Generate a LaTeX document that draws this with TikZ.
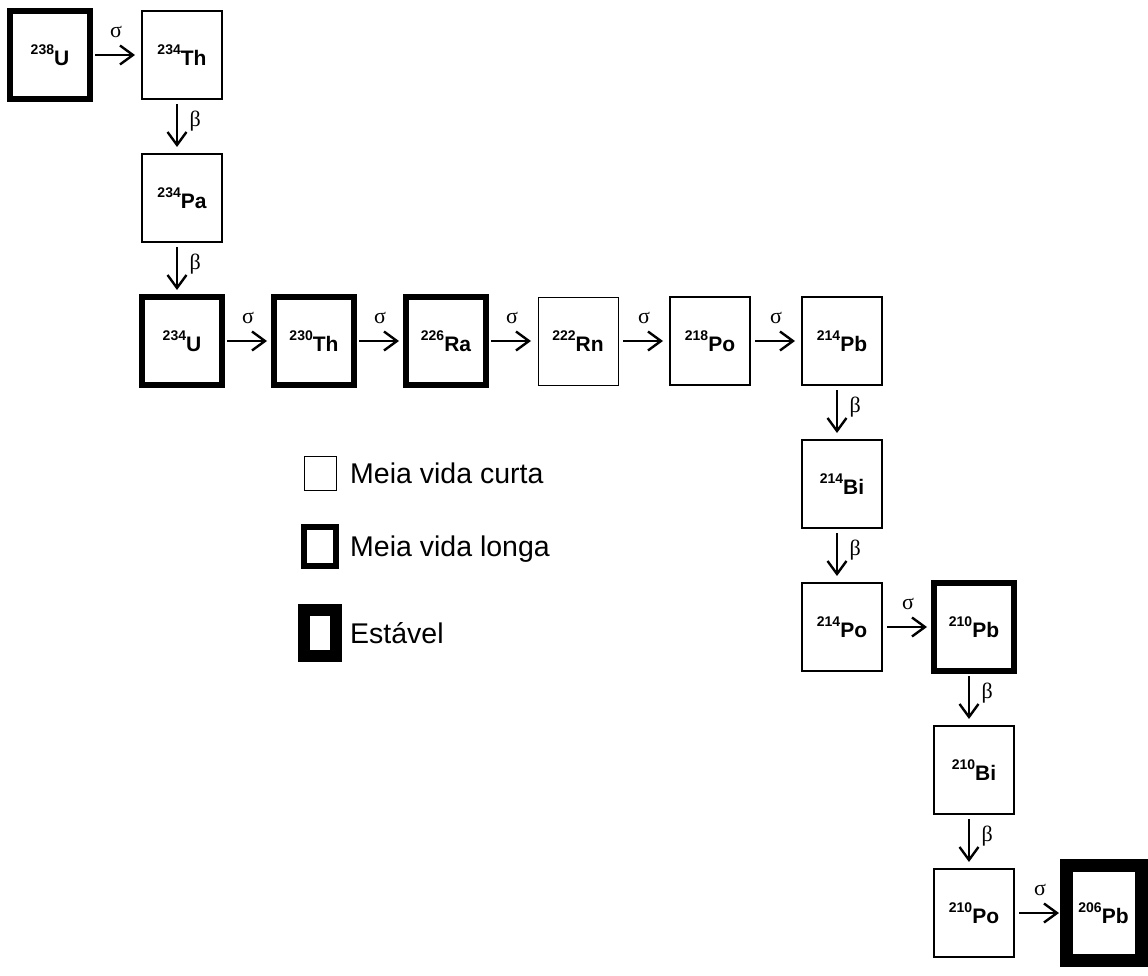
\documentclass[tikz,border=0pt]{standalone}
\usepackage{fontspec}
\setmainfont{Liberation Sans}
\newfontfamily\greekfont{Liberation Serif}
\usepackage{tikz}
\usetikzlibrary{positioning, arrows.meta}
\newcommand{\nucl}[2]{\raisebox{10.5pt}{\fontsize{14}{15}\selectfont #1}#2}

\begin{document}
\begin{tikzpicture}[
	node distance=55pt and 52pt,
	nuc/.style={draw, outer sep=0pt, inner sep=0pt, minimum width=80pt, minimum height=88pt, font=\bfseries\fontsize{21}{25}\selectfont},
	curta/.style={nuc, line width=1pt},
	media/.style={nuc, line width=2.2pt},
	longa/.style={nuc, line width=5.5pt},
	estavel/.style={nuc, line width=13pt, minimum width=75pt, minimum height=95pt},
	decay/.style={line width=2.4pt, -{Straight Barb[length=13pt, width=19pt]}, shorten <=5pt, shorten >=7pt},
	greek/.style={font=\greekfont\fontsize{22}{26}\selectfont},
	sigma/.style={greek, midway, yshift=23pt},
	beta/.style={greek, pos=.4, anchor=west, xshift=8pt},
	legbox/.style={draw, outer sep=0pt, minimum width=32pt},
	legtext/.style={inner sep=0pt, anchor=west, text height=20.5pt, text depth=0pt, font=\fontsize{28.5}{32}\selectfont}
	]
	\useasboundingbox (0,0) rectangle (1148pt,-976pt);
	
	\node[longa] (u238) at (50pt,-55pt) {\nucl{238}{U}};
	\node[media, right=of u238] (th234) {\nucl{234}{Th}};
	\node[media, below=of th234] (pa234) {\nucl{234}{Pa}};
	\node[longa, below=of pa234] (u234) {\nucl{234}{U}};
	\node[longa, right=of u234] (th230) {\nucl{230}{Th}};
	\node[longa, right=of th230] (ra226) {\nucl{226}{Ra}};
	\node[curta, right=of ra226] (rn222) {\nucl{222}{Rn}};
	\node[media, right=of rn222] (po218) {\nucl{218}{Po}};
	\node[media, right=of po218] (pb214) {\nucl{214}{Pb}};
	\node[media, below=of pb214] (bi214) {\nucl{214}{Bi}};
	\node[media, below=of bi214] (po214) {\nucl{214}{Po}};
	\node[longa, right=of po214] (pb210) {\nucl{210}{Pb}};
	\node[media, below=of pb210] (bi210) {\nucl{210}{Bi}};
	\node[media, below=of bi210] (po210) {\nucl{210}{Po}};
	\node[estavel, right=of po210] (pb206) {\nucl{206}{Pb}};
	
	\draw[decay] (u238) -- (th234) node[sigma] {σ};
	\draw[decay] (u234) -- (th230) node[sigma] {σ};
	\draw[decay] (th230) -- (ra226) node[sigma] {σ};
	\draw[decay] (ra226) -- (rn222) node[sigma] {σ};
	\draw[decay] (rn222) -- (po218) node[sigma] {σ};
	\draw[decay] (po218) -- (pb214) node[sigma] {σ};
	\draw[decay] (po214) -- (pb210) node[sigma] {σ};
	\draw[decay] (po210) -- (pb206) node[sigma] {σ};
	
	\draw[decay] ([xshift=-5pt]th234.south) -- ([xshift=-5pt]pa234.north) node[beta] {β};
	\draw[decay] ([xshift=-5pt]pa234.south) -- ([xshift=-5pt]u234.north) node[beta] {β};
	\draw[decay] ([xshift=-5pt]pb214.south) -- ([xshift=-5pt]bi214.north) node[beta] {β};
	\draw[decay] ([xshift=-5pt]bi214.south) -- ([xshift=-5pt]po214.north) node[beta] {β};
	\draw[decay] ([xshift=-5pt]pb210.south) -- ([xshift=-5pt]bi210.north) node[beta] {β};
	\draw[decay] ([xshift=-5pt]bi210.south) -- ([xshift=-5pt]po210.north) node[beta] {β};
	
	\node[legbox, line width=1pt, minimum height=34pt] (lcurta) at (320pt,-473.5pt) {};
	\node[legtext, right=14pt of lcurta] (tcurta) {Meia vida curta};
	\node[legbox, line width=6pt, minimum height=39pt] (llonga) at (320pt,-546.5pt) {};
	\node[legtext, right=14pt of llonga] (tlonga) {Meia vida longa};
	\node[legbox, line width=12pt, minimum height=46pt] (lestavel) at (320pt,-633pt) {};
	\node[legtext, right=14pt of lestavel] (testavel) {Estável};
\end{tikzpicture}
\end{document}
